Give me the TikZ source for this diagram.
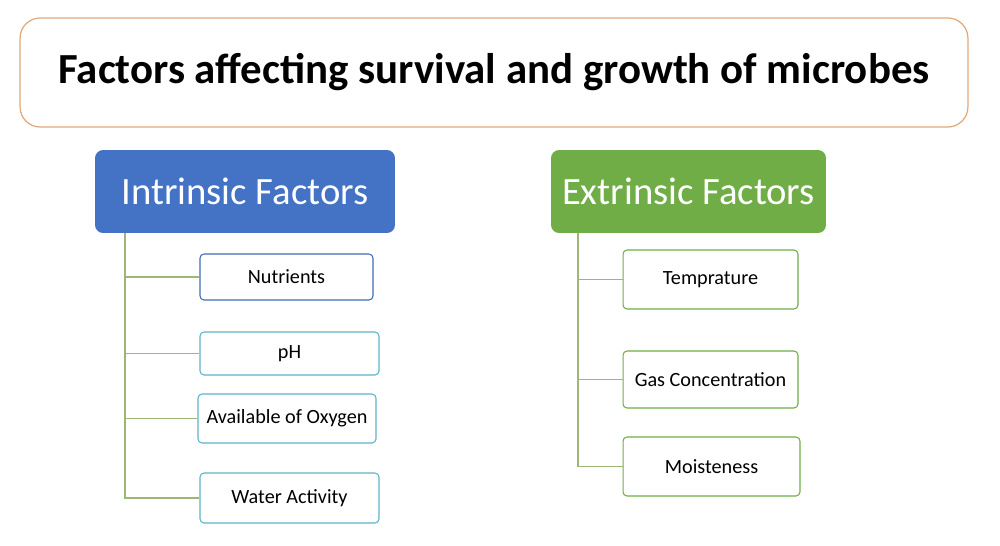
\documentclass[tikz,border=0pt]{standalone}
\usepackage{fontspec}
\setmainfont{Carlito}
\definecolor{titleline}{HTML}{E2A77A}
\definecolor{intrblue}{HTML}{4472C4}
\definecolor{extrgreen}{HTML}{70AD47}
\definecolor{itemblue}{HTML}{3F6CB5}
\definecolor{itemteal}{HTML}{5FB3C6}
\definecolor{itemgreen}{HTML}{70AD47}
\definecolor{linkgreen}{HTML}{9CB878}
\tikzset{
  headbox/.style={rounded corners=0.16cm,text=white,font=\fontsize{22}{25}\selectfont,
    minimum height=1.66cm,inner sep=0pt},
  itembox/.style={draw,rounded corners=0.08cm,line width=0.6pt,fill=white,
    font=\fontsize{11.5}{13}\selectfont,inner sep=0pt},
  link/.style={draw=linkgreen,line width=0.7pt}
}
\begin{document}
\begin{tikzpicture}[x=0.02cm,y=-0.02cm]
\useasboundingbox (0,0) rectangle (1000,545);
\node[draw=titleline,line width=0.7pt,rounded corners=0.4cm,minimum width=18.96cm,minimum height=2.18cm,
  font=\fontsize{24.4}{28}\selectfont\bfseries] (title) at (494,72.5) {Factors affecting survival and growth of microbes};
\node[headbox,fill=intrblue,minimum width=6cm] (intr) at (245,191.5) {Intrinsic Factors};
\node[headbox,fill=extrgreen,minimum width=5.5cm] (extr) at (688.5,191.5) {Extrinsic Factors};
% intrinsic side
\coordinate (lt) at (125,233);
\coordinate (rt) at (578,233);
\node[itembox,draw=itemblue,minimum width=3.46cm,minimum height=0.92cm] (nut) at (286.5,277) {Nutrients};
\node[itembox,draw=itemteal,minimum width=3.58cm,minimum height=0.86cm] (ph) at (289.5,353.5) {pH};
\node[itembox,draw=itemteal,minimum width=3.56cm,minimum height=0.98cm] (oxy) at (287,418.5) {Available of Oxygen};
\node[itembox,draw=itemteal,minimum width=3.58cm,minimum height=1cm] (wat) at (289.5,498) {Water Activity};
\draw[link] (lt) |- (wat.west);
\draw[link] (nut.west) -- (nut.west -| lt);
\draw[link] (ph.west) -- (ph.west -| lt);
\draw[link] (oxy.west) -- (oxy.west -| lt);
% extrinsic side
\node[itembox,draw=itemgreen,minimum width=3.5cm,minimum height=1.18cm] (tem) at (710.5,279.5) {Temprature};
\node[itembox,draw=itemgreen,minimum width=3.5cm,minimum height=1.14cm] (gas) at (710.5,379.5) {Gas Concentration};
\node[itembox,draw=itemgreen,minimum width=3.54cm,minimum height=1.18cm] (moi) at (711.5,466.5) {Moisteness};
\draw[link] (rt) |- (moi.west);
\draw[link] (tem.west) -- (tem.west -| rt);
\draw[link] (gas.west) -- (gas.west -| rt);
\end{tikzpicture}
\end{document}
